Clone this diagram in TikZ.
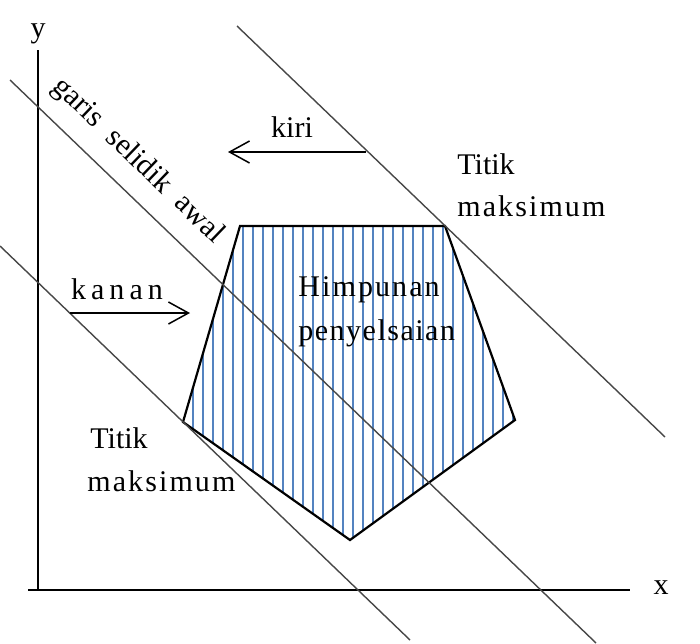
\documentclass[tikz,border=0pt]{standalone}
\usepackage{fontspec}
\setmainfont{Liberation Serif}
\usetikzlibrary{arrows.meta}
\begin{document}
\begin{tikzpicture}[x=0.5pt,y=-0.5pt,
  lbl/.style={font=\fontsize{15pt}{18pt}\selectfont, inner sep=0pt},
  axis/.style={line width=1pt, black},
  sweep/.style={line width=0.7pt, black!72},
  edge/.style={line width=1.1pt, black},
  hatch/.style={line width=1pt, color={rgb,255:red,84;green,131;blue,192}},
  dirarrow/.style={line width=0.75pt, black, -{Straight Barb[length=10pt,width=11pt,line width=0.75pt]}}]
\useasboundingbox (0,0) rectangle (700,643);
% axes
\coordinate (O) at (38,590);
\coordinate (ytop) at (38,50);
\coordinate (xend) at (630,590);
\coordinate (xstart) at (28,590);
\draw[axis] (ytop) -- (38,590) -- (xend);
\draw[axis] (xstart) -- (O);
\node[lbl] (ylab) at (38,34) {y};
\node[lbl] (xlab) at (661,588) {x};
% pentagon
\coordinate (A) at (240,226);
\coordinate (B) at (445,226);
\coordinate (C) at (515,420);
\coordinate (D) at (350,540);
\coordinate (E) at (183,422);
\begin{scope}
  \clip (A) -- (B) -- (C) -- (D) -- (E) -- cycle;
  \foreach \k in {-7,...,28} {
    \draw[hatch] ({243+10*\k},200) -- ({243+10*\k},560);
  }
\end{scope}
\draw[edge, line join=miter] (A) -- (B) -- (C) -- (D) -- (E) -- cycle;
% parallel lines
\coordinate (t1) at (237,26);
\coordinate (t2) at (665,437);
\coordinate (m1) at (10,80);
\coordinate (m2) at (596,643);
\coordinate (b1) at (0,246);
\coordinate (b2) at (410,640);
\draw[sweep] (t1) -- (t2);
\draw[sweep] (m1) -- (m2);
\draw[sweep] (b1) -- (b2);
% labels
\node[lbl, rotate=-43.8] (garis) at (138,161) {garis\ \ selidik\ \ awal};
\coordinate (kiriS) at (366,152);
\coordinate (kiriE) at (228,152);
\draw[dirarrow] (kiriS) -- (kiriE);
\node[lbl] (kiri) at (292,127) {kiri};
\coordinate (kananS) at (70,313);
\coordinate (kananE) at (190,313);
\draw[dirarrow] (kananS) -- (kananE);
\node[lbl] (kanan) at (117,289) {k\,a\,n\,a\,n};
\node[lbl, anchor=west] (tt1) at (457,164) {Titik};
\node[lbl, anchor=west] (tm1) at (457,206) {\addfontfeature{LetterSpace=7}maksimum};
\node[lbl, anchor=west] (tt2) at (90,438) {Titik};
\node[lbl, anchor=west] (tm2) at (87,481) {\addfontfeature{LetterSpace=7}maksimum};
\node[lbl, anchor=west] (h1) at (298,290) {\addfontfeature{LetterSpace=7}Himpunan};
\node[lbl, anchor=west] (h2) at (298,333) {\addfontfeature{LetterSpace=5}penyelsaian};
\end{tikzpicture}
\end{document}
